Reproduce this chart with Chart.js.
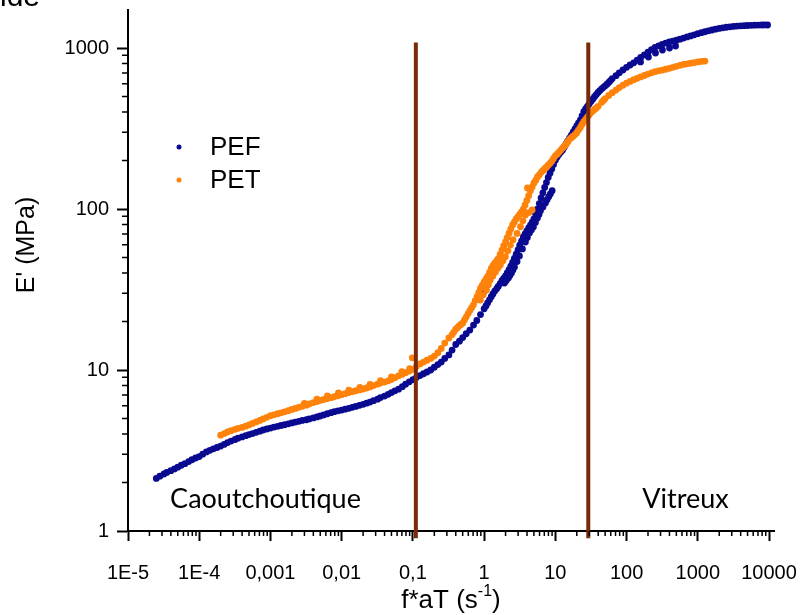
<!DOCTYPE html>
<html>
<head>
<meta charset="utf-8">
<script src="https://cdn.jsdelivr.net/npm/chart.js@4.4.1/dist/chart.umd.min.js"></script>
<style>
  html, body { margin: 0; padding: 0; background: #fff; }
</style>
</head>
<body>
<canvas id="chart" width="801" height="615"></canvas>
<script>
// axis ticks
const xTickValues = [1e-5, 1e-4, 1e-3, 1e-2, 1e-1, 1, 10, 100, 1000, 10000];
const xTickLabels = ['1E-5', '1E-4', '0,001', '0,01', '0,1', '1', '10', '100', '1000', '10000'];
const yTickValues = [1, 10, 100, 1000];
const yTickLabels = ['1', '10', '100', '1000'];

// PEF : f*aT (s-1) / E' (MPa)
const pefFreq = [
  // caoutchoutique
  2.5e-5, 2.8e-5, 3.2e-5, 3.5e-5, 4.0e-5, 4.5e-5, 5.0e-5, 5.6e-5, 6.3e-5, 7.1e-5,
  7.9e-5, 8.9e-5, 1.0e-4, 1.12e-4, 1.26e-4, 1.41e-4, 1.58e-4, 1.78e-4, 2.0e-4, 2.24e-4,
  2.5e-4, 2.8e-4, 3.2e-4, 3.5e-4, 4.0e-4, 4.5e-4, 5.0e-4, 5.6e-4, 6.3e-4, 7.1e-4,
  7.9e-4, 8.9e-4, 1.0e-3, 1.12e-3, 1.26e-3, 1.41e-3, 1.58e-3, 1.78e-3, 2.0e-3, 2.24e-3,
  2.5e-3, 2.8e-3, 3.2e-3, 3.5e-3, 4.0e-3, 4.5e-3, 5.0e-3, 5.6e-3, 6.3e-3, 7.1e-3,
  7.9e-3, 8.9e-3, 0.01, 0.0112, 0.0126, 0.0141, 0.0158, 0.0178, 0.02, 0.0224,
  0.025, 0.028, 0.032, 0.035, 0.040, 0.045, 0.050, 0.056, 0.063, 0.071,
  0.079, 0.089, 0.10, 0.112, 0.126, 0.141, 0.158, 0.178, 0.20, 0.224,
  0.25, 0.28, 0.32, 0.355, 0.40, 0.45, 0.50, 0.56, 0.63, 0.71,
  0.79, 0.89, 1.0,
  // transition
  1.06, 1.12, 1.19, 1.26, 1.33, 1.41, 1.50, 1.58, 1.68, 1.78,
  1.88, 2.0, 2.11, 2.24, 2.37, 2.51, 2.66, 2.82, 2.99, 3.16,
  3.35, 3.55, 3.76, 3.98, 4.22, 4.47, 4.73, 5.01, 5.31, 5.62,
  5.96, 6.31, 6.68, 7.08, 7.50, 7.94, 8.41, 8.91, 9.44, 10.0,
  10.6, 11.2, 11.9, 12.6, 13.3, 14.1, 14.9, 15.8, 16.8, 17.8,
  18.9, 20.0, 21.1, 22.4, 23.7, 25.1, 26.6, 28.2, 29.8, 31.6,
  33.5, 35.5, 37.6, 39.8, 42.2, 44.7, 47.3, 50.1, 53.1, 56.2,
  59.5,
  // vitreux
  63, 71, 79, 89, 100, 112, 126, 141, 158, 178,
  200, 224, 251, 282, 316, 355, 398, 447, 501, 562,
  631, 708, 794, 891, 1000, 1122, 1259, 1413, 1585, 1778,
  1995, 2239, 2512, 2818, 3162, 3548, 3981, 4467, 5012, 5623,
  6310, 7079, 7943, 8700, 9550,
  // seconde série (transition)
  1.93, 2.05, 2.19, 2.30, 2.42, 2.54, 2.67, 2.9, 3.13, 3.45,
  3.80, 4.05, 4.33, 4.6, 4.92, 5.25, 5.60, 5.9, 6.18, 6.7,
  7.26, 7.65, 8.07, 8.5, 9.02, 0.94, 1.01,
  // seconde branche (vitreux)
  157, 203, 255, 319, 401, 487
];
const pefModulus = [
  2.12, 2.19, 2.26, 2.31, 2.37, 2.43, 2.49, 2.56, 2.62, 2.70,
  2.77, 2.84, 2.90, 3.00, 3.10, 3.17, 3.24, 3.30, 3.37, 3.45,
  3.54, 3.62, 3.70, 3.77, 3.84, 3.91, 3.97, 4.03, 4.10, 4.17,
  4.24, 4.30, 4.36, 4.42, 4.47, 4.52, 4.57, 4.63, 4.69, 4.75,
  4.80, 4.86, 4.91, 4.97, 5.04, 5.11, 5.18, 5.26, 5.35, 5.43,
  5.51, 5.58, 5.64, 5.71, 5.78, 5.86, 5.94, 6.03, 6.12, 6.22,
  6.32, 6.45, 6.59, 6.74, 6.89, 7.06, 7.24, 7.42, 7.60, 7.88,
  8.17, 8.44, 8.71, 8.97, 9.23, 9.48, 9.72, 10.0, 10.4, 10.8,
  11.2, 11.8, 12.4, 13.3, 14.4, 15.1, 15.9, 16.8, 17.7, 19.0,
  20.3, 22.1, 24.0,
  25.0, 26.1, 27.3, 28.5, 29.7, 30.9, 32.0, 33.0, 34.4, 35.9,
  37.1, 38.4, 40.1, 42.0, 44.2, 46.6, 49.4, 52.4, 55.8, 59.6,
  63.2, 67.0, 70.0, 73.1, 76.2, 79.4, 83.0, 86.9, 92.8, 99.8,
  108, 117, 126, 136, 146, 157, 167, 177, 189, 201,
  210, 218, 225, 232, 242, 253, 264, 275, 288, 301,
  314, 328, 341, 356, 378, 403, 418, 434, 449, 465,
  481, 498, 514, 530, 544, 558, 570, 582, 596, 611,
  628,
  646, 673, 701, 730, 759, 784, 809, 840, 873, 907,
  942, 975, 1009, 1032, 1054, 1073, 1091, 1104, 1117, 1135,
  1153, 1171, 1189, 1208, 1227, 1245, 1262, 1278, 1294, 1309,
  1324, 1335, 1346, 1354, 1361, 1368, 1374, 1377, 1380, 1384,
  1387, 1389, 1390, 1391, 1390,
  34.7, 36.0, 37.3, 38.6, 40.0, 41.8, 43.6, 47.2, 51.1, 56.5,
  62.4, 66.5, 71.0, 74.0, 77.3, 82.5, 87.9, 92.5, 97.6, 103,
  109, 114, 119, 124, 130, 32.9, 31.0,
  819, 879, 931, 972, 1000, 1029
];

// PET
const petFreq = [
  // caoutchoutique
  2.0e-4, 2.24e-4, 2.5e-4, 2.8e-4, 3.2e-4, 3.5e-4, 4.0e-4, 4.5e-4, 5.0e-4, 5.6e-4,
  6.3e-4, 7.1e-4, 7.9e-4, 8.9e-4, 1.0e-3, 1.12e-3, 1.26e-3, 1.41e-3, 1.58e-3, 1.78e-3,
  2.0e-3, 2.24e-3, 2.5e-3, 2.8e-3, 3.2e-3, 3.5e-3, 4.0e-3, 4.5e-3, 5.0e-3, 5.6e-3,
  6.3e-3, 7.1e-3, 7.9e-3, 8.9e-3, 0.01, 0.0112, 0.0126, 0.0141, 0.0158, 0.0178,
  0.02, 0.0224, 0.025, 0.028, 0.032, 0.035, 0.040, 0.045, 0.050, 0.056,
  0.063, 0.071, 0.079, 0.089, 0.10, 0.112, 0.126, 0.141, 0.158, 0.178,
  0.20, 0.224, 0.25, 0.28, 0.32,
  0.003, 0.0045, 0.0063, 0.009, 0.0126, 0.018, 0.025, 0.035, 0.05, 0.07, 0.09,
  // transition
  0.355, 0.376, 0.398, 0.422, 0.447, 0.473, 0.501, 0.531, 0.562, 0.596,
  0.631, 0.668, 0.708, 0.750, 0.794, 0.841, 0.891, 0.944, 1.0, 1.06,
  1.12, 1.19, 1.26, 1.33, 1.41, 1.50, 1.58, 1.68, 1.78, 1.88,
  2.0, 2.11, 2.24, 2.37, 2.51, 2.66, 2.82, 2.99, 3.16, 3.35,
  3.55, 3.76, 3.98, 4.22, 4.47, 4.73, 5.01, 5.31, 5.62, 5.96,
  6.31, 6.68, 7.08, 7.50, 7.94, 8.41, 8.91, 9.44, 10.0, 10.6,
  11.2, 11.9, 12.6, 13.3, 14.1, 14.9, 15.8, 16.8, 17.8, 18.9,
  20.0, 21.1, 22.4, 23.7, 25.1, 26.6, 28.2, 29.8, 31.6, 33.5,
  35.5, 37.6, 39.8, 44.7, 47.3, 50.1, 56.2,
  // vitreux
  63, 71, 79, 89, 100, 112, 126, 141, 158, 178,
  200, 224, 251, 282, 316, 355, 398, 447, 501, 562,
  631, 708, 794, 891, 1000, 1122, 1259,
  // seconde série (transition)
  0.887, 0.97, 1.08, 1.15, 1.22, 1.33, 1.44, 1.56, 1.69, 1.84,
  1.99, 2.16, 2.34, 2.55, 2.9, 3.24, 3.5, 3.80, 4.25, 4.72,
  4.06, 0.098
];
const petModulus = [
  3.94, 4.03, 4.12, 4.20, 4.28, 4.34, 4.40, 4.48, 4.56, 4.66,
  4.76, 4.86, 4.97, 5.08, 5.20, 5.27, 5.35, 5.42, 5.50, 5.59,
  5.69, 5.77, 5.86, 5.95, 6.05, 6.16, 6.28, 6.37, 6.47, 6.56,
  6.65, 6.73, 6.82, 6.92, 7.03, 7.13, 7.24, 7.33, 7.43, 7.52,
  7.62, 7.73, 7.85, 8.00, 8.17, 8.29, 8.41, 8.56, 8.73, 8.96,
  9.20, 9.40, 9.62, 9.85, 10.1, 10.5, 10.9, 11.2, 11.5, 11.8,
  12.2, 12.8, 13.6, 14.7, 15.8,
  6.2, 6.6, 6.9, 7.2, 7.5, 7.8, 8.15, 8.6, 9.05, 9.75, 10.2,
  16.6, 17.2, 17.9, 18.3, 18.8, 19.2, 19.6, 20.5, 21.4, 22.4,
  23.4, 24.4, 25.4, 27.0, 28.6, 30.3, 32.2, 33.7, 35.2, 36.7,
  38.2, 40.4, 42.7, 44.4, 46.1, 47.6, 49.2, 52.3, 55.6, 59.0,
  62.5, 66.5, 70.8, 75.1, 79.6, 83.1, 86.7, 89.6, 92.5, 96.1,
  99.8, 106, 113, 121, 130, 137, 145, 151, 158, 163,
  169, 173, 178, 182, 187, 192, 198, 206, 214, 219,
  225, 232, 239, 245, 252, 261, 271, 277, 283, 290,
  298, 309, 321, 335, 349, 360, 372, 384, 397, 406,
  415, 424, 434, 460, 472, 485, 507,
  528, 548, 568, 587, 605, 620, 635, 648, 661, 675,
  689, 701, 713, 721, 729, 738, 748, 758, 769, 780,
  791, 798, 805, 812, 820, 825, 830,
  27.2, 29.3, 31.4, 33.8, 36.2, 38.4, 40.6, 42.8, 44.9, 47.7,
  50.6, 55.0, 59.7, 64.5, 70.5, 77.6, 84.5, 91.8, 95.0, 98.6,
  135, 11.9
];

// limites des zones (traits verticaux)
const zoneLimits = [0.11, 29];
const zoneSpan = [0.9, 1080];
const zoneNames = ['Caoutchoutique', 'Vitreux'];
const zoneNameX = [3.9e-5, 166];
const zoneNameY = 1.39;

const toPoints = (xs, ys) => xs.map((x, i) => ({ x, y: ys[i] }));

const zoneLines = zoneLimits.map(v => ({
  type: 'line',
  data: zoneSpan.map(y => ({ x: v, y })),
  borderColor: '#7a2a08',
  borderWidth: 4,
  pointRadius: 0,
  clip: false,
  borderCapStyle: 'butt',
  order: 0
}));

const noPadding = s => {
  s.paddingTop = 0;
  s.paddingBottom = 0;
  s.paddingLeft = 0;
  s.paddingRight = 0;
};

const minorTicks = {
  id: 'minorTicks',
  afterDraw(chart) {
    const { ctx, scales: { x, y } } = chart;
    ctx.save();
    ctx.strokeStyle = '#000';
    ctx.lineWidth = 1.5;
    ctx.beginPath();
    for (let e = -5; e <= 4; e++) {
      for (let m = 2; m <= 9; m++) {
        const v = m * Math.pow(10, e);
        if (v > x.max) continue;
        const px = x.getPixelForValue(v);
        ctx.moveTo(px, x.top);
        ctx.lineTo(px, x.top + 5);
      }
    }
    for (let e = 0; e <= 3; e++) {
      for (let m = 2; m <= 9; m++) {
        const v = m * Math.pow(10, e);
        if (v > y.max) continue;
        const py = y.getPixelForValue(v);
        ctx.moveTo(y.right, py);
        ctx.lineTo(y.right - 6, py);
      }
    }
    ctx.stroke();
    ctx.restore();
  }
};

const texts = {
  id: 'texts',
  afterDraw(chart) {
    const { ctx, scales: { x, y } } = chart;
    ctx.save();
    ctx.fillStyle = '#000';

    // bout de titre coupé en haut
    ctx.font = '30px "Liberation Sans"';
    ctx.textBaseline = 'alphabetic';
    ctx.textAlign = 'left';
    ctx.fillText('ide', 0, 6);

    // zones
    ctx.font = '27px Lato';
    zoneNames.forEach((name, i) => {
      ctx.fillText(name, x.getPixelForValue(zoneNameX[i]), y.getPixelForValue(zoneNameY));
    });

    // légende
    ctx.font = '26px "Liberation Sans"';
    ctx.textBaseline = 'middle';
    chart.data.datasets.filter(d => d.label).forEach((d, i) => {
      const cy = 147 + i * 33;
      ctx.fillStyle = d.backgroundColor;
      ctx.beginPath();
      ctx.arc(179, cy, 2.5, 0, Math.PI * 2);
      ctx.fill();
      ctx.fillStyle = '#000';
      ctx.fillText(d.label, 210, cy + 1);
    });

    // titre axe y
    ctx.font = '25px "Liberation Sans"';
    ctx.textAlign = 'center';
    ctx.textBaseline = 'middle';
    ctx.translate(27, 245);
    ctx.rotate(-Math.PI / 2);
    ctx.fillText("E' (MPa)", 0, 0);
    ctx.setTransform(1, 0, 0, 1, 0, 0);

    // titre axe x avec exposant
    ctx.textAlign = 'left';
    ctx.textBaseline = 'alphabetic';
    const main = '26px "Liberation Sans"', sup = '16px "Liberation Sans"';
    ctx.font = main;
    const w1 = ctx.measureText('f*aT (s').width;
    const w3 = ctx.measureText(')').width;
    ctx.font = sup;
    const w2 = ctx.measureText('-1').width;
    const tx = (x.left + x.right) / 2 - (w1 + w2 + w3) / 2;
    const base = 608;
    ctx.font = main;
    ctx.fillText('f*aT (s', tx, base);
    ctx.font = sup;
    ctx.fillText('-1', tx + w1, base - 12);
    ctx.font = main;
    ctx.fillText(')', tx + w1 + w2, base);
    ctx.restore();
  }
};

const tickFont = { family: '"Liberation Sans"', size: 20 };

new Chart(document.getElementById('chart'), {
  type: 'scatter',
  data: {
    datasets: [
      ...zoneLines,
      {
        label: 'PEF',
        data: toPoints(pefFreq, pefModulus),
        backgroundColor: '#0a0a91',
        borderWidth: 0,
        pointRadius: 3.4,
        order: 2
      },
      {
        label: 'PET',
        data: toPoints(petFreq, petModulus),
        backgroundColor: '#ff820a',
        borderWidth: 0,
        pointRadius: 3.4,
        order: 1
      }
    ]
  },
  options: {
    responsive: false,
    animation: false,
    devicePixelRatio: 1,
    layout: { padding: { top: 10, right: 27, left: 0, bottom: 0 } },
    plugins: { legend: { display: false }, tooltip: { enabled: false } },
    scales: {
      x: {
        type: 'logarithmic',
        min: 1e-5,
        max: 11750,
        afterBuildTicks: s => { s.ticks = xTickValues.map(v => ({ value: v })); },
        afterFit: s => { s.height = 84; noPadding(s); },
        ticks: {
          callback: (v, i) => xTickLabels[i],
          autoSkip: false,
          maxRotation: 0,
          color: '#000',
          font: tickFont,
          padding: 20
        },
        grid: { drawOnChartArea: false, drawTicks: true, tickLength: 10, tickWidth: 2, tickColor: '#000' },
        border: { display: true, color: '#000', width: 2 }
      },
      y: {
        type: 'logarithmic',
        min: 1,
        max: 1722,
        afterBuildTicks: s => { s.ticks = yTickValues.map(v => ({ value: v })); },
        afterFit: s => { s.width = 128; noPadding(s); },
        ticks: {
          callback: (v, i) => yTickLabels[i],
          autoSkip: false,
          color: '#000',
          font: tickFont,
          padding: 8
        },
        grid: { drawOnChartArea: false, drawTicks: true, tickLength: 11, tickWidth: 2, tickColor: '#000' },
        border: { display: true, color: '#000', width: 2 }
      }
    }
  },
  plugins: [minorTicks, texts]
});
</script>
</body>
</html>
